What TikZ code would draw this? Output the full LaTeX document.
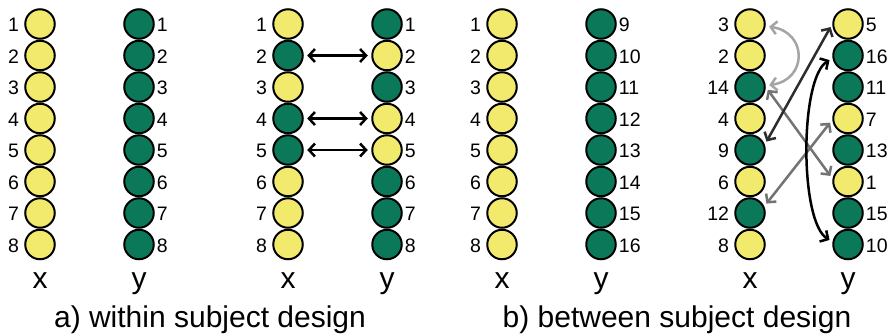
\documentclass[tikz,border=0pt]{standalone}
\usepackage{fontspec}
\setmainfont{Liberation Sans}
\usetikzlibrary{arrows.meta}
\definecolor{cyel}{RGB}{242,234,108}
\definecolor{cgrn}{RGB}{12,120,90}
\definecolor{lgray}{RGB}{165,165,165}
\definecolor{mgray}{RGB}{115,115,115}
\definecolor{dgray}{RGB}{45,45,45}
\begin{document}
\begin{tikzpicture}[x=1pt,y=-1pt,
 dot/.style={circle,draw=black,line width=2pt,minimum size=29.5pt,inner sep=0pt},
 Y/.style={dot,fill=cyel}, G/.style={dot,fill=cgrn},
 numl/.style={font=\fontsize{19.5}{19.5}\selectfont,inner sep=0pt,anchor=east},
 numr/.style={font=\fontsize{19.5}{19.5}\selectfont,inner sep=0pt,anchor=west},
 axlab/.style={font=\fontsize{30}{30}\selectfont,inner sep=0pt,anchor=base},
 ttl/.style={font=\fontsize{30}{30}\selectfont,inner sep=0pt,anchor=base},
 link/.style={line width=2.5pt,{Straight Barb[length=6pt,width=13pt]}-{Straight Barb[length=6pt,width=13pt]},shorten >=3.5pt,shorten <=3.5pt},
]
\useasboundingbox (0,0) rectangle (891,335);
% a1 x
\foreach \s/\l [count=\i] in {Y/1,Y/2,Y/3,Y/4,Y/5,Y/6,Y/7,Y/8}{
  \node[\s] (a1x\i) at (40,{24+31.5*(\i-1)}) {};
  \node[numl] (a1xl\i) at ([xshift=-5pt,yshift=-1pt]a1x\i.west) {\l};}
% a1 y
\foreach \s/\l [count=\i] in {G/1,G/2,G/3,G/4,G/5,G/6,G/7,G/8}{
  \node[\s] (a1y\i) at (139,{24+31.5*(\i-1)}) {};
  \node[numr] (a1yl\i) at ([xshift=2pt,yshift=-1pt]a1y\i.east) {\l};}
% a2 x
\foreach \s/\l [count=\i] in {Y/1,G/2,Y/3,G/4,G/5,Y/6,Y/7,Y/8}{
  \node[\s] (a2x\i) at (288,{24+31.5*(\i-1)}) {};
  \node[numl] (a2xl\i) at ([xshift=-5pt,yshift=-1pt]a2x\i.west) {\l};}
% a2 y
\foreach \s/\l [count=\i] in {G/1,Y/2,G/3,Y/4,Y/5,G/6,G/7,G/8}{
  \node[\s] (a2y\i) at (387,{24+31.5*(\i-1)}) {};
  \node[numr] (a2yl\i) at ([xshift=2pt,yshift=-1pt]a2y\i.east) {\l};}
% b1 x
\foreach \s/\l [count=\i] in {Y/1,Y/2,Y/3,Y/4,Y/5,Y/6,Y/7,Y/8}{
  \node[\s] (b1x\i) at (502,{24+31.5*(\i-1)}) {};
  \node[numl] (b1xl\i) at ([xshift=-5pt,yshift=-1pt]b1x\i.west) {\l};}
% b1 y
\foreach \s/\l [count=\i] in {G/9,G/10,G/11,G/12,G/13,G/14,G/15,G/16}{
  \node[\s] (b1y\i) at (601,{24+31.5*(\i-1)}) {};
  \node[numr] (b1yl\i) at ([xshift=2pt,yshift=-1pt]b1y\i.east) {\l};}
% b2 x
\foreach \s/\l [count=\i] in {Y/3,Y/2,G/14,Y/4,G/9,Y/6,G/12,Y/8}{
  \node[\s] (b2x\i) at (750,{24+31.5*(\i-1)}) {};
  \node[numl] (b2xl\i) at ([xshift=-5pt,yshift=-1pt]b2x\i.west) {\l};}
% b2 y
\foreach \s/\l [count=\i] in {Y/5,G/16,G/11,Y/7,G/13,Y/1,G/15,G/10}{
  \node[\s] (b2y\i) at (848,{24+31.5*(\i-1)}) {};
  \node[numr] (b2yl\i) at ([xshift=2pt,yshift=-1pt]b2y\i.east) {\l};}
% axis letters
\node[axlab] (la1x) at (40,288) {x};
\node[axlab] (la1y) at (139,288) {y};
\node[axlab] (la2x) at (288,288) {x};
\node[axlab] (la2y) at (387,288) {y};
\node[axlab] (lb1x) at (502,288) {x};
\node[axlab] (lb1y) at (601,288) {y};
\node[axlab] (lb2x) at (750,288) {x};
\node[axlab] (lb2y) at (848,288) {y};
% titles
\node[ttl] (ta) at (210,327) {a) within subject design};
\node[ttl] (tb) at (677,327) {b) between subject design};
% panel a links
\foreach \r in {2,4,5}{\draw[link,draw=black] (a2x\r.east) -- (a2y\r.west);}
% panel b links
\draw[link,draw=lgray] (b2x1.-8) .. controls +(42,6) and +(42,-6) .. (b2x3.5);
\draw[link,draw=mgray] (b2x3.east) -- (b2y6.170);
\draw[link,draw=mgray] (b2x7.25) -- (b2y4.185);
\draw[link,draw=dgray] (b2y1.west) -- (b2x5.20);
\draw[link,draw=black] (b2y2.190) .. controls +(-33,20) and +(-33,-20) .. (b2y8.170);
\end{tikzpicture}
\end{document}
